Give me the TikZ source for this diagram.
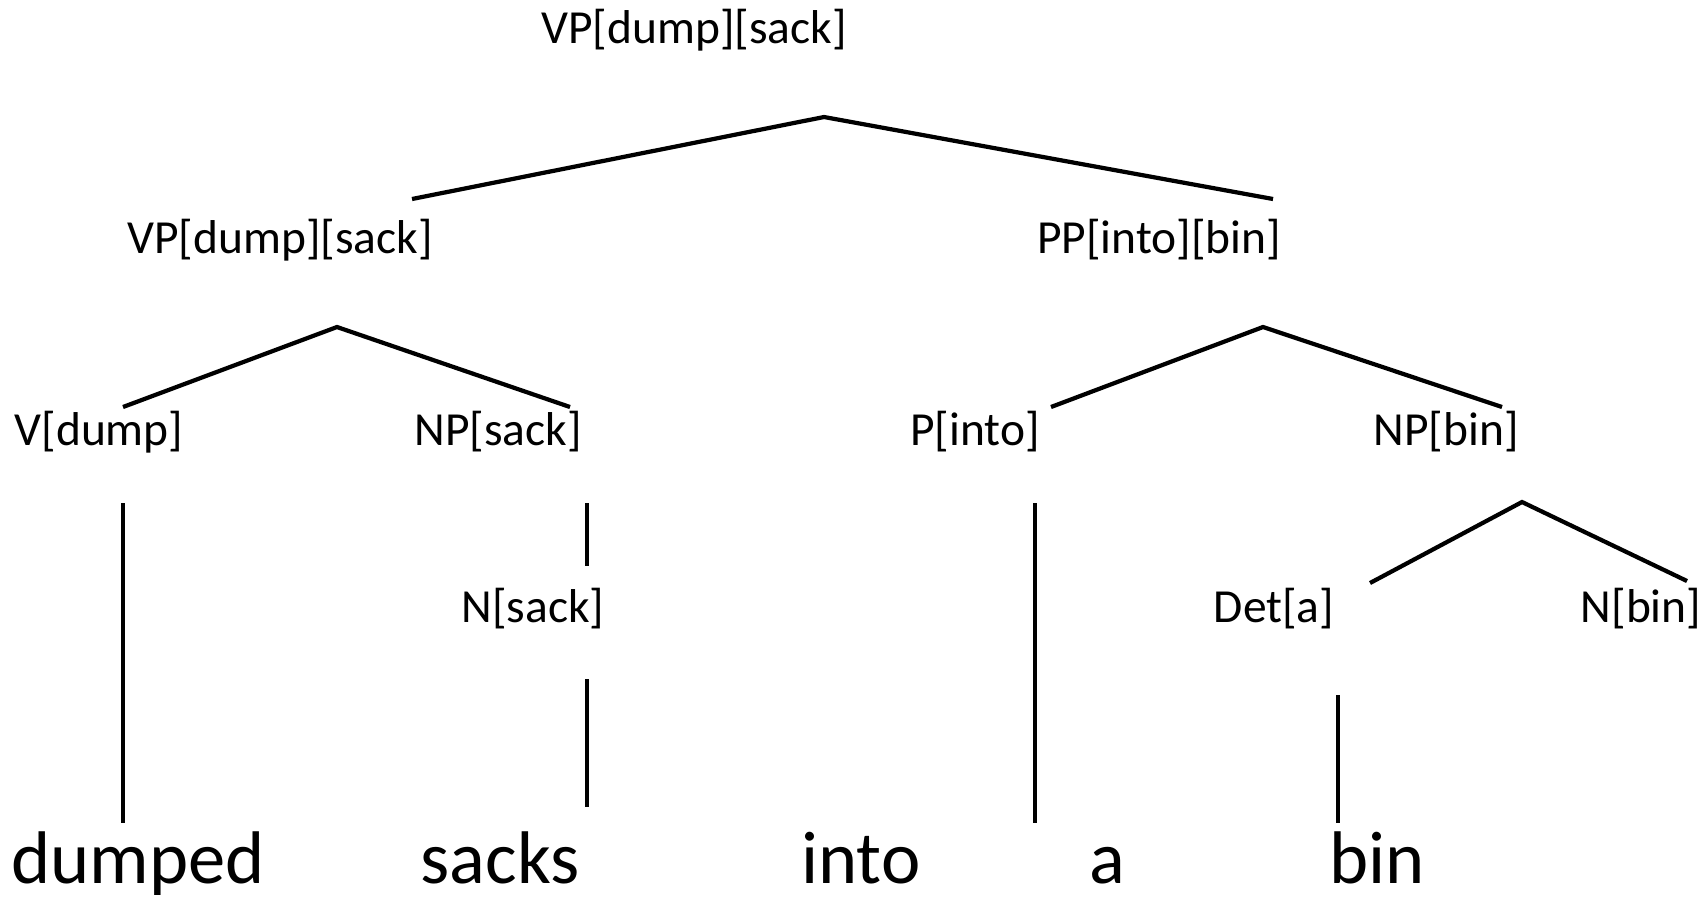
\documentclass[tikz,border=0pt]{standalone}
\usepackage{fontspec}
\setmainfont{Carlito}
\usetikzlibrary{positioning}

\begin{document}
\begin{tikzpicture}[x=0.01cm,y=-0.01cm,line width=1.2pt,
    cat/.style={anchor=base,inner sep=0pt,font=\fontsize{13.5}{16}\selectfont},
    word/.style={anchor=base,inner sep=0pt,font=\fontsize{21.2}{25}\selectfont},
    stem/.style={line width=1pt}]
  \useasboundingbox (0,0) rectangle (1704,899);
  % categories
  \node[cat] (vp) at (694,43) {VP[dump][sack]};
  \node[cat] (vp1) at (280,253) {VP[dump][sack]};
  \node[cat] (pp) at (1159,253) {PP[into][bin]};
  \node[cat] (v) at (99,445) {V[dump]};
  \node[cat] (np1) at (498,445) {NP[sack]};
  \node[cat] (p) at (975,445) {P[into]};
  \node[cat] (np2) at (1446,445) {NP[bin]};
  \node[cat] (n1) at (533,622) {N[sack]};
  \node[cat] (det) at (1274,622) {Det[a]};
  \node[cat] (n2) at (1641,622) {N[bin]};
  % words
  \node[word] (dumped) at (138,883) {dumped};
  \node[word] (sacks) at (500,883) {sacks};
  \node[word] (into) at (861,883) {into};
  \node[word] (a) at (1107,883) {a};
  \node[word] (bin) at (1377,883) {bin};
  % branch ends
  \coordinate (vp-fork) at (824,117);
  \coordinate (vp1-top) at (412,199);
  \coordinate (pp-top) at (1273,199);
  \coordinate (vp1-fork) at (337,327);
  \coordinate (v-top) at (123,407);
  \coordinate (np1-top) at (570,407);
  \coordinate (pp-fork) at (1263,327);
  \coordinate (p-top) at (1051,407);
  \coordinate (np2-top) at (1502,407);
  \coordinate (np2-fork) at (1522,502);
  \coordinate (det-top) at (1370,583);
  \coordinate (n2-top) at (1687,581);
  \coordinate (v-foot) at (123,503);
  \coordinate (dumped-top) at (123,823);
  \coordinate (np1-foot) at (587,503);
  \coordinate (n1-top) at (587,566);
  \coordinate (n1-foot) at (587,679);
  \coordinate (sacks-top) at (587,807);
  \coordinate (p-foot) at (1035,503);
  \coordinate (a-top) at (1035,823);
  \coordinate (det-foot) at (1338,695);
  \coordinate (bin-top) at (1338,823);
  % branches
  \draw (vp1-top) -- (vp-fork) -- (pp-top);
  \draw (v-top) -- (vp1-fork) -- (np1-top);
  \draw (p-top) -- (pp-fork) -- (np2-top);
  \draw (det-top) -- (np2-fork) -- (n2-top);
  \draw[stem] (v-foot) -- (dumped-top);
  \draw[stem] (np1-foot) -- (n1-top);
  \draw[stem] (n1-foot) -- (sacks-top);
  \draw[stem] (p-foot) -- (a-top);
  \draw[stem] (det-foot) -- (bin-top);
\end{tikzpicture}
\end{document}
